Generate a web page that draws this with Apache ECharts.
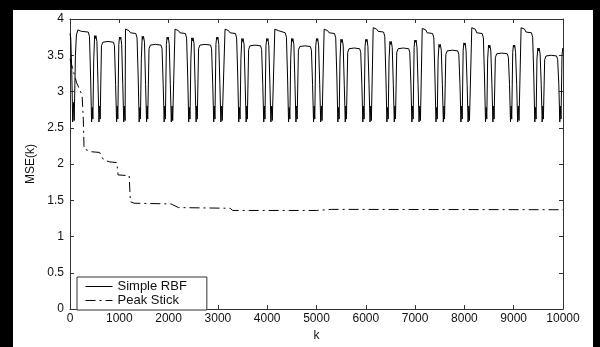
<!DOCTYPE html>
<html>
<head>
<meta charset="utf-8">
<script src="https://cdn.jsdelivr.net/npm/echarts@6/dist/echarts.min.js"></script>
<style>
  html, body { margin: 0; padding: 0; background: #fff; }
  #chart { width: 600px; height: 347px; }
</style>
</head>
<body>
<div id="chart"></div>
<script>
// Simple RBF: start of the run before the first cycle, [k, mse]
const rbfLead = [[0, 3.8], [15, 3.74], [35, 3.3], [55, 2.58], [70, 2.85], [85, 2.6], [110, 3.5], [130, 3.78], [145, 3.8]];

// one entry per repeating cycle (k where the high plateau starts + levels)
const cycleStart   = [160, 1125, 2130, 3145, 4155, 5155, 6150, 7145, 8150, 9150];
const cycleHigh    = [3.85, 3.86, 3.86, 3.86, 3.86, 3.86, 3.88, 3.87, 3.88, 3.88];
const cycleHighEnd = [3.82, 3.80, 3.80, 3.80, 3.81, 3.80, 3.82, 3.80, 3.80, 3.81];
const cycleSpike   = [3.77, 3.76, 3.74, 3.73, 3.73, 3.72, 3.69, 3.65, 3.64, 3.60];
const cycleLow     = [3.69, 3.65, 3.65, 3.64, 3.63, 3.60, 3.60, 3.57, 3.53, 3.50];
const cycleSpike2  = [3.75, 3.75, 3.75, 3.73, 3.73, 3.72, 3.71, 3.67, 3.64, 3.60];

// shape of one cycle: k offset, which level it sits on (null = absolute value), value / offset from level
const shapeK   = [0, 40, 70, 100, 210, 235, 258, 278, 292, 304, 322, 340, 352, 366, 386, 408, 428, 440, 452, 478, 505, 610, 720, 742, 765, 785, 798, 810, 830, 845, 858, 870, 888, 910, 930, 945, 958];
const shapeRef = ['h', 'h', 'h', 'e', 'e', 'e', null, null, null, null, null, 's', 's', 's', 's', null, null, null, null, 'l', 'l', 'l', 'l', 'l', null, null, null, null, 't', 't', 't', 't', 't', null, null, null, null];
const shapeV   = [0, -0.005, -0.02, 0.01, 0, -0.06, 3.2, 2.58, 2.78, 2.62, 3.45, 0, -0.04, 0, -0.08, 3.1, 2.58, 2.8, 2.62, -0.06, -0.01, 0, -0.01, -0.06, 3.1, 2.58, 2.8, 2.62, -0.1, 0, -0.03, 0, -0.1, 3.1, 2.58, 2.8, 2.6];

// Peak Stick, [k, mse]
const peakStick = [[0, 3.45], [60, 3.3], [135, 3.12], [200, 3.02], [245, 2.95], [270, 2.62], [285, 2.21], [430, 2.17], [600, 2.16], [680, 2.06], [800, 2.03], [950, 2.02], [975, 1.85], [1200, 1.84], [1225, 1.48], [1300, 1.46], [2050, 1.45], [2200, 1.4], [3250, 1.39], [3300, 1.36], [5000, 1.36], [5300, 1.375], [10000, 1.37]];

const seriesNames = ['Simple RBF', 'Peak Stick'];

const rbf = rbfLead.slice();
cycleStart.forEach((s, i) => {
  const lv = { h: cycleHigh[i], e: cycleHighEnd[i], s: cycleSpike[i], l: cycleLow[i], t: cycleSpike2[i] };
  shapeK.forEach((dk, j) => {
    const k = s + dk;
    if (k > 10000) return;
    const v = shapeRef[j] ? lv[shapeRef[j]] + shapeV[j] : shapeV[j];
    rbf.push([k, v]);
  });
});

const font = 'Arial, "Liberation Sans", sans-serif';
const axisColor = '#333';

const chart = echarts.init(document.getElementById('chart'));

const boxX = (pos) => ({
  type: 'value', position: pos, min: 0, max: 10000, interval: 1000,
  axisLine: { show: true, onZero: false, lineStyle: { color: axisColor, width: 1 } },
  axisTick: { show: true, inside: true, length: 4, lineStyle: { color: axisColor } },
  splitLine: { show: false }
});
const boxY = (pos) => ({
  type: 'value', position: pos, min: 0, max: 4, interval: 0.5,
  axisLine: { show: true, onZero: false, lineStyle: { color: axisColor, width: 1 } },
  axisTick: { show: true, inside: true, length: 4, lineStyle: { color: axisColor } },
  splitLine: { show: false }
});

const option = {
  animation: false,
  backgroundColor: '#fff',
  grid: { left: 70, right: 37, top: 19, bottom: 35 },
  xAxis: [
    Object.assign(boxX('bottom'), {
      axisLabel: { margin: 4, fontSize: 12, color: '#111', fontFamily: font, formatter: (v) => String(v) },
      name: 'k', nameLocation: 'middle', nameGap: 19,
      nameTextStyle: { fontSize: 12, color: '#111', fontFamily: font }
    }),
    Object.assign(boxX('top'), { axisLabel: { show: false } })
  ],
  yAxis: [
    Object.assign(boxY('left'), {
      axisLabel: { margin: 6, fontSize: 12, color: '#111', fontFamily: font },
      name: 'MSE(k)', nameLocation: 'middle', nameGap: 33,
      nameTextStyle: { fontSize: 12, color: '#111', fontFamily: font }
    }),
    Object.assign(boxY('right'), { axisLabel: { show: false } })
  ],
  legend: {
    left: 77, top: 277, orient: 'vertical',
    data: seriesNames,
    backgroundColor: '#fff',
    borderColor: axisColor, borderWidth: 1, borderRadius: 0,
    padding: [3, 20, 3, 8],
    itemWidth: 27, itemHeight: 12, itemGap: 1, itemTextGap: 8,
    itemStyle: { color: 'transparent', borderWidth: 0, opacity: 0 },
    lineStyle: { width: 1, color: '#000' },
    textStyle: { fontSize: 13, color: '#111', fontFamily: font }
  },
  graphic: [
    { type: 'rect', shape: { x: 0, y: 0, width: 13, height: 347 }, style: { fill: '#000' }, z: 100 },
    { type: 'rect', shape: { x: 0, y: 0, width: 600, height: 10 }, style: { fill: '#000' }, z: 100 },
    { type: 'rect', shape: { x: 593, y: 0, width: 7, height: 347 }, style: { fill: '#000' }, z: 100 }
  ],
  series: [
    {
      name: seriesNames[0], type: 'line', data: rbf,
      symbol: 'none', showSymbol: false,
      lineStyle: { color: '#000', width: 1 }, itemStyle: { color: '#000' }
    },
    {
      name: seriesNames[1], type: 'line', data: peakStick,
      symbol: 'none', showSymbol: false,
      lineStyle: { color: '#000', width: 1, type: [10, 4, 2, 4] }, itemStyle: { color: '#000' }
    }
  ]
};

chart.setOption(option);
</script>
</body>
</html>
